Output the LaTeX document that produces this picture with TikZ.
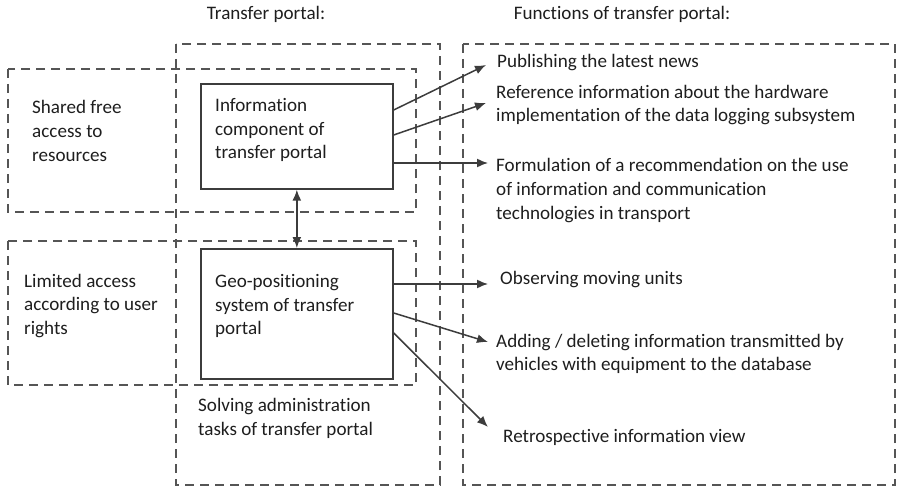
\documentclass[tikz,border=0pt]{standalone}
\usepackage{fontspec}
\setmainfont{Carlito}[Ligatures=NoCommon]
\usetikzlibrary{arrows.meta,calc}
\definecolor{ln}{HTML}{3C3C3C}
\definecolor{dl}{HTML}{555555}
\definecolor{tx}{HTML}{1E1E1E}
\begin{document}
\begin{tikzpicture}[x=1pt,y=-1pt,
  dbox/.style={draw=dl,line width=1.4pt,dash pattern=on 9pt off 6pt},
  sbox/.style={draw=ln,line width=1.7pt,anchor=north west,inner sep=0pt},
  txt/.style={text=tx,font=\fontsize{19.1}{23.7}\selectfont,align=left,inner sep=0pt,anchor=west},
  ttl/.style={text=tx,font=\fontsize{19.1}{23.7}\selectfont,inner sep=0pt},
  arr/.style={draw=ln,line width=1.5pt,-{Latex[length=11pt,width=9pt]}},
  darr/.style={draw=ln,line width=1.5pt,{Latex[length=11pt,width=9pt]}-{Latex[length=11pt,width=9pt]}}]
\path[use as bounding box] (0,0) rectangle (898,487);
% dashed regions
\draw[dbox] (176,44) rectangle (440,485);
\draw[dbox] (8,69) rectangle (416,212);
\draw[dbox] (8,241) rectangle (416,385);
\draw[dbox] (463,44) rectangle (895,485);
% titles
\node[ttl] (t1) at (266,14) {Transfer portal:};
\node[ttl] (t2) at (622,14) {Functions of transfer portal:};
% solid boxes
\node[sbox,minimum width=192pt,minimum height=105pt] (info) at (200,83) {};
\node[sbox,minimum width=192pt,minimum height=130pt] (geo) at (200,248) {};
% left texts
\node[txt] (shared) at (32,131) {Shared free\\access to\\resources};
\node[txt] (infot) at (215,130) {Information\\component of\\transfer portal};
\node[txt] (limited) at (24,306) {Limited access\\according to user\\rights};
\node[txt] (geot) at (215,306) {Geo-positioning\\system of transfer\\portal};
\node[txt] (solving) at (198,418.5) {Solving administration\\tasks of transfer portal};
% right texts
\node[txt] (pub) at (497,63) {Publishing the latest news};
\node[txt] (ref) at (496,105) {Reference information about the hardware\\implementation of the data logging subsystem};
\node[txt] (form) at (496,190.5) {Formulation of a recommendation on the use\\of information and communication\\technologies in transport};
\node[txt] (obs) at (500,280) {Observing moving units};
\node[txt] (add) at (496,354) {Adding / deleting information transmitted by\\vehicles with equipment to the database};
\node[txt] (retro) at (503,437) {Retrospective information view};
% connector coordinates
\coordinate (i1) at ($(info.north east)+(0,27)$);
\coordinate (i2) at ($(info.north east)+(0,52)$);
\coordinate (i3) at ($(info.north east)+(0,80)$);
\coordinate (g1) at ($(geo.north east)+(0,36)$);
\coordinate (g2) at ($(geo.north east)+(0,65)$);
\coordinate (g3) at ($(geo.north east)+(0,85)$);
\coordinate (e1) at (486,65);
\coordinate (e2) at (486,103);
\coordinate (e3) at (488,163);
\coordinate (f1) at (488,284);
\coordinate (f2) at (488,342);
\coordinate (f3) at (488,427);
% connectors
\draw[darr] (info.south) -- (geo.north);
\draw[arr] (i1) -- (e1);
\draw[arr] (i2) -- (e2);
\draw[arr] (i3) -- (e3);
\draw[arr] (g1) -- (f1);
\draw[arr] (g2) -- (f2);
\draw[arr] (g3) -- (f3);
\end{tikzpicture}
\end{document}
